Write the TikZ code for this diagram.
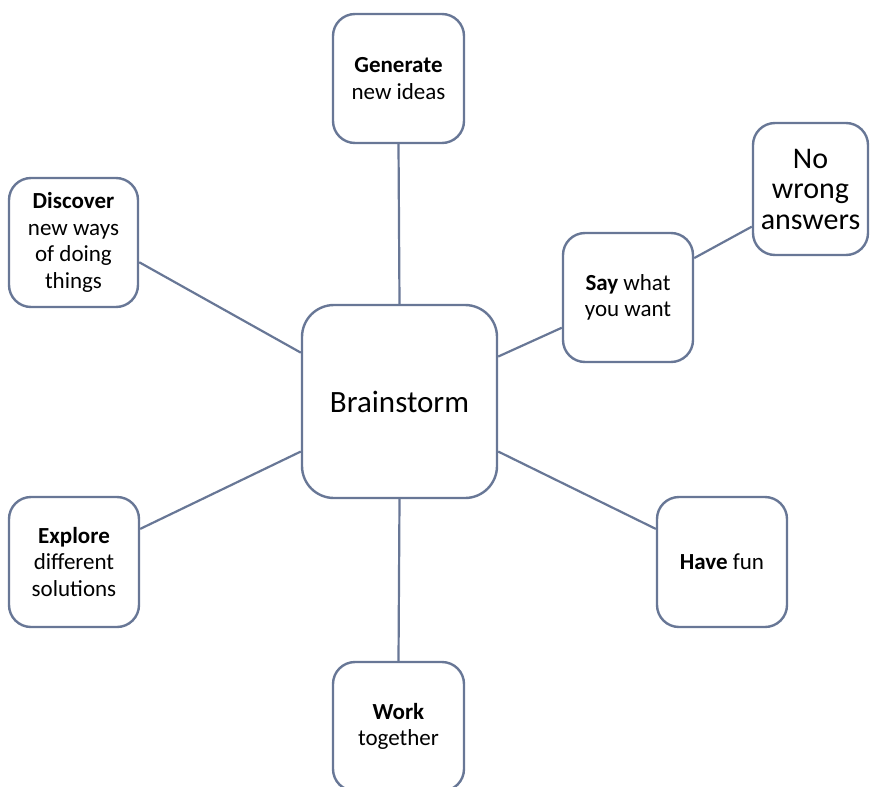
\documentclass[tikz,border=0pt]{standalone}
\usepackage{fontspec}
\setmainfont{Carlito}
\usetikzlibrary{calc}
\definecolor{edgeblue}{RGB}{104,119,150}
\tikzset{
  idea/.style={draw=edgeblue, line width=2.4pt, fill=white, rounded corners=22pt,
    align=center, inner sep=0pt, font=\fontsize{23}{26.5}\selectfont},
  link/.style={draw=edgeblue, line width=2.2pt}
}
\begin{document}
\begin{tikzpicture}[x=1pt, y=-1pt]
  \useasboundingbox (0,0) rectangle (870,787);
  \clip (0,0) rectangle (870,787);

  % central topic
  \node[idea, minimum width=195pt, minimum height=193pt, rounded corners=32pt,
        font=\fontsize{31}{36}\selectfont] (brain) at (399.5,401.5) {Brainstorm};

  % surrounding ideas
  \node[idea, minimum width=131pt, minimum height=129pt] (gen) at (398.5,78.5)
    {\textbf{Generate}\\new ideas};
  \node[idea, minimum width=129pt, minimum height=129pt] (disc) at (73.5,242.5)
    {\textbf{Discover}\\new ways\\of doing\\things};
  \node[idea, minimum width=130pt, minimum height=129pt] (say) at (628,297.5)
    {\textbf{Say} what\\you want};
  \node[idea, minimum width=115pt, minimum height=132pt,
        font=\fontsize{30}{30.5}\selectfont] (nowrong) at (810.5,189)
    {No\\wrong\\answers};
  \node[idea, minimum width=130pt, minimum height=130pt] (expl) at (74,562)
    {\textbf{Explore}\\different\\solutions};
  \node[idea, minimum width=130pt, minimum height=130pt] (fun) at (722,562)
    {\textbf{Have} fun};
  \node[idea, minimum width=131pt, minimum height=129pt] (work) at (398.5,726.5)
    {\textbf{Work}\\together};

  % connectors
  \draw[link] (gen.south) -- (brain.north);
  \draw[link] (work.north) -- (brain.south);
  \draw[link] ($(disc.north east)!0.65!(disc.south east)$)
           -- ($(brain.north west)!0.25!(brain.south west)$);
  \draw[link] ($(expl.north east)!0.25!(expl.south east)$)
           -- ($(brain.north west)!0.756!(brain.south west)$);
  \draw[link] ($(brain.north east)!0.27!(brain.south east)$)
           -- ($(say.north west)!0.73!(say.south west)$);
  \draw[link] ($(brain.north east)!0.756!(brain.south east)$)
           -- ($(fun.north west)!0.25!(fun.south west)$);
  \draw[link] ($(say.north east)!0.2!(say.south east)$)
           -- ($(nowrong.north west)!0.78!(nowrong.south west)$);
\end{tikzpicture}
\end{document}
